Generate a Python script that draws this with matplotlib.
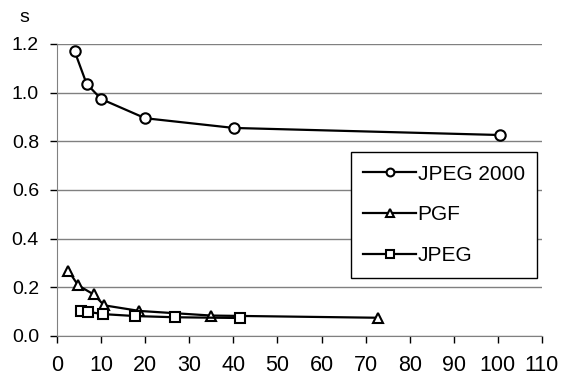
import matplotlib.pyplot as plt

plt.rcParams["font.family"] = ["Liberation Sans", "DejaVu Sans"]

# data
jp2_x = [4.0, 6.7, 10.0, 20.0, 40.1, 100.4]
jp2_y = [1.17, 1.037, 0.974, 0.895, 0.855, 0.826]

pgf_x = [2.6, 4.8, 8.3, 10.7, 18.7, 35.0, 72.7]
pgf_y = [0.268, 0.208, 0.171, 0.126, 0.103, 0.084, 0.075]

jpg_x = [5.4, 7.1, 10.4, 17.7, 26.7, 41.4]
jpg_y = [0.104, 0.099, 0.090, 0.082, 0.077, 0.074]

xticks = list(range(0, 111, 10))
yticks = [0.0, 0.2, 0.4, 0.6, 0.8, 1.0, 1.2]

fig = plt.figure(figsize=(5.61, 3.80), dpi=100)
ax = fig.add_axes([57 / 561, 1 - 336 / 380, (542 - 57) / 561, (336 - 44) / 380])

style = dict(color="black", lw=1.6, mfc="white", mec="black", mew=1.5)
ax.plot(jp2_x, jp2_y, marker="o", ms=7.5, label="JPEG 2000", **style)
ax.plot(pgf_x, pgf_y, marker="^", ms=7.5, label="PGF", **style)
ax.plot(jpg_x, jpg_y, marker="s", ms=7, label="JPEG", **style)

ax.set_xlim(0, 110)
ax.set_ylim(0, 1.2)
ax.set_xticks(xticks)
ax.set_yticks(yticks)
ax.set_yticklabels(["%.1f" % v for v in yticks])
ax.tick_params(length=5, width=1, direction="out")
ax.tick_params(axis="y", labelsize=14, pad=8)
ax.tick_params(axis="x", labelsize=15.5, pad=9)
ax.yaxis.grid(True, color="#808080", lw=1)
ax.set_axisbelow(True)
for s in ["top", "right"]:
    ax.spines[s].set_visible(False)
ax.spines["left"].set_color("#808080")
ax.spines["bottom"].set_color("#808080")

fig.text(24 / 561, 1 - 17 / 380, "s", fontsize=14, ha="center", va="center")

leg = ax.legend(loc="upper left", bbox_to_anchor=(351 / 561, 1 - 152 / 380),
                bbox_transform=fig.transFigure, fontsize=15, fancybox=False,
                framealpha=1, edgecolor="black", handlelength=2.5,
                borderpad=0.6, labelspacing=1.05, handletextpad=0.1,
                borderaxespad=0, markerscale=0.75)
leg.get_frame().set_linewidth(1)

fig.savefig("out.png", dpi=100)
